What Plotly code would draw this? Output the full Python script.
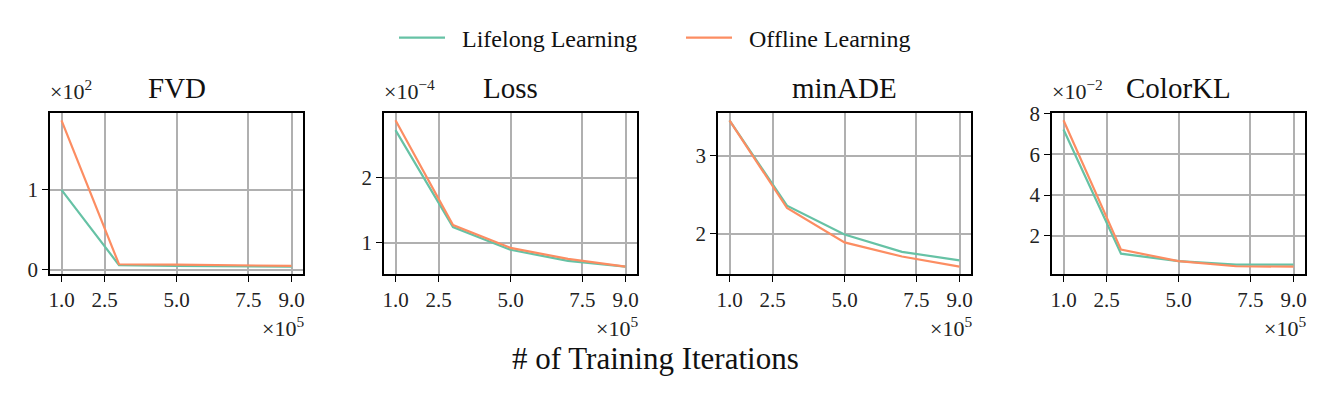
import numpy as np
import plotly.graph_objects as go

# training iterations
iterations = [1e5, 3e5, 5e5, 7e5, 9e5]

metrics = ["FVD", "Loss", "minADE", "ColorKL"]

fvd_lifelong = [100, 6, 5, 4.5, 4]
fvd_offline = [187, 7, 6.5, 6, 5]
loss_lifelong = [2.73e-4, 1.24e-4, 0.89e-4, 0.72e-4, 0.63e-4]
loss_offline = [2.88e-4, 1.27e-4, 0.92e-4, 0.75e-4, 0.63e-4]
minade_lifelong = [3.45, 2.36, 1.99, 1.77, 1.66]
minade_offline = [3.45, 2.33, 1.89, 1.71, 1.58]
colorkl_lifelong = [0.0722, 0.0112, 0.0075, 0.0058, 0.0058]
colorkl_offline = [0.0767, 0.0132, 0.0075, 0.0050, 0.0048]

# y-axis multiplier exponents (None -> no offset label)
y_exponents = [2, -4, None, -2]
y_ticks = [[0, 1], [1, 2], [2, 3], [2, 4, 6, 8]]
x_ticks = [1.0, 2.5, 5.0, 7.5, 9.0]

lifelong = [fvd_lifelong, loss_lifelong, minade_lifelong, colorkl_lifelong]
offline = [fvd_offline, loss_offline, minade_offline, colorkl_offline]

C_LIFE = "#66c2a5"
C_OFF = "#fc8d62"
FONT = "Liberation Serif"
W, H = 1328, 393
OFF = 8  # page body margin
FW, FH = W - 2 * OFF, H - 2 * OFF


def px(xp):
    return (xp - OFF) / FW


def py(yp):
    return (H - OFF - yp) / FH


panels_px = [(50, 303), (384, 637), (718, 971), (1052, 1305)]
y_px = (113, 274)
ydom = [py(y_px[1]), py(y_px[0])]

fig = go.Figure()
x = np.array(iterations) / 1e5

for i, name in enumerate(metrics):
    sfx = "" if i == 0 else str(i + 1)
    exp = y_exponents[i]
    scale = 10.0 ** exp if exp is not None else 1.0
    ya = np.array(lifelong[i]) / scale
    yb = np.array(offline[i]) / scale
    for yy, col, lab in [(ya, C_LIFE, "Lifelong Learning"), (yb, C_OFF, "Offline Learning")]:
        fig.add_trace(go.Scatter(x=x, y=yy, mode="lines", name="\u00a0\u00a0" + lab,
                                 line=dict(color=col, width=2.2),
                                 xaxis="x" + sfx, yaxis="y" + sfx,
                                 showlegend=(i == 0)))
    lo = min(ya.min(), yb.min()); hi = max(ya.max(), yb.max())
    pad = 0.05 * (hi - lo)
    x0, x1 = panels_px[i]
    ax_common = dict(showline=True, mirror=True, linecolor="black", linewidth=1.6,
                     showgrid=True, gridcolor="#b0b0b0", gridwidth=1.6, zeroline=False,
                     ticks="outside", ticklen=6, tickwidth=1.4, tickcolor="black",
                     automargin=False,
                     tickfont=dict(family=FONT, size=21, color="#222"))
    fig.update_layout(**{
        "xaxis" + sfx: dict(ax_common, domain=[px(x0), px(x1)], anchor="y" + sfx,
                            range=[0.6, 9.4], tickvals=x_ticks,
                            ticktext=["%.1f" % t for t in x_ticks]),
        "yaxis" + sfx: dict(ax_common, domain=ydom, anchor="x" + sfx,
                            range=[lo - pad, hi + pad], tickvals=y_ticks[i],
                            ticktext=[str(t) for t in y_ticks[i]]),
    })
    # panel title
    fig.add_annotation(text=name, x=px((x0 + x1) / 2), y=py(88), xref="paper", yref="paper",
                       showarrow=False, xanchor="center", yanchor="middle",
                       font=dict(family=FONT, size=29, color="#111"))
    # x multiplier
    fig.add_annotation(text="×10<sup>5</sup>", x=px(x1 + 3), y=py(327), xref="paper",
                       yref="paper", showarrow=False, xanchor="right", yanchor="middle",
                       font=dict(family=FONT, size=22, color="#222"))
    if exp is not None:
        fig.add_annotation(text="×10<sup>%s</sup>" % str(exp).replace("-", "−"),
                           x=px(x0 - 2), y=py(106), xref="paper", yref="paper",
                           showarrow=False, xanchor="left", yanchor="bottom",
                           font=dict(family=FONT, size=22, color="#222"))

fig.add_annotation(text="# of Training Iterations", x=px(655), y=py(358),
                   xref="paper", yref="paper", showarrow=False, xanchor="center",
                   yanchor="middle", font=dict(family=FONT, size=31, color="#111"))

fig.update_layout(
    width=FW, height=FH,
    margin=dict(l=0, r=0, t=0, b=0, autoexpand=False),
    paper_bgcolor="white", plot_bgcolor="white",
    legend=dict(orientation="h", x=px(681), y=py(38), xanchor="center", yanchor="middle",
                font=dict(family=FONT, size=24, color="#111"), itemwidth=46,
                entrywidth=226, bgcolor="rgba(0,0,0,0)"),
)

fig.write_html("out.html")
